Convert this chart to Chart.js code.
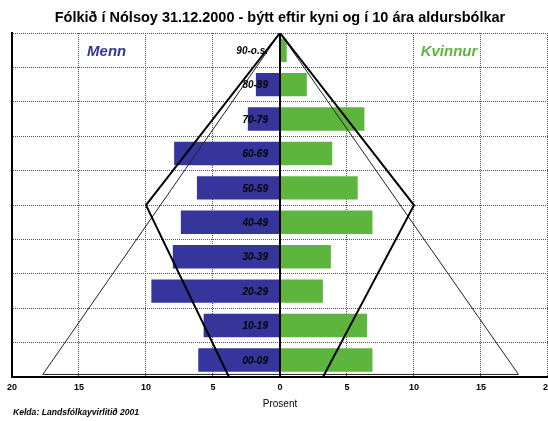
<!DOCTYPE html>
<html>
<head>
<meta charset="utf-8">
<script src="https://cdn.jsdelivr.net/npm/chart.js@4/dist/chart.umd.min.js"></script>
<style>
  html, body { margin: 0; padding: 0; background: #fff; overflow: hidden; }
</style>
</head>
<body>
<canvas id="pyramid" width="558" height="421"></canvas>
<script>
// age groups, top to bottom
const ageGroups = ['90-o.s.', '80-89', '70-79', '60-69', '50-59', '40-49', '30-39', '20-29', '10-19', '00-09'];
// percent of population
const menn = [0, 1.8, 2.4, 7.9, 6.2, 7.4, 8.0, 9.6, 5.7, 6.1];
const kvinnur = [0.5, 2.0, 6.3, 3.9, 5.8, 6.9, 3.8, 3.2, 6.5, 6.9];

// outline shapes: x = percent, y = row position (0 = bottom, 10 = top)
const outerX = [0, -17.7, 17.8, 0];
const outerY = [10, 0.08, 0.08, 10];
const innerX = [0, -10, -3.8, 3.2, 10, 0];
const innerY = [10, 5, 0, 0, 5, 10];
const zeroX = [0, 0];
const zeroY = [0, 10];

const xTicks = [-20, 20, 5]; // min, max, step

const titleText = 'Fólkið í Nólsoy 31.12.2000 - býtt eftir kyni og í 10 ára aldursbólkar';
const sourceText = 'Kelda: Landsfólkayvirlitið 2001';

function toPoints(xs, ys) {
    return xs.map((x, i) => ({x: x, y: ys[i]}));
}

const FONT = "'Liberation Sans', Arial, sans-serif";

const textPlugin = {
    id: 'texts',
    afterDraw(chart) {
        const ctx = chart.ctx;
        const xs = chart.scales.x;
        const ys = chart.scales.y;
        const area = chart.chartArea;
        ctx.save();
        // title, centred over the plot area
        ctx.fillStyle = '#000';
        ctx.font = 'bold 14.5px ' + FONT;
        ctx.textAlign = 'center';
        ctx.textBaseline = 'middle';
        ctx.fillText(titleText, (area.left + area.right) / 2, 18);
        // age labels just left of the zero line
        ctx.font = 'italic bold 10px ' + FONT;
        ctx.textAlign = 'right';
        ageGroups.forEach((lbl, i) => {
            ctx.fillText(lbl, xs.getPixelForValue(0) - 12, ys.getPixelForValue(i) + 1);
        });
        // series names
        ctx.font = 'italic bold 15px ' + FONT;
        ctx.textAlign = 'left';
        ctx.fillStyle = '#35359b';
        ctx.fillText('Menn', xs.getPixelForValue(-14.4), ys.getPixelForValue(0) + 2);
        ctx.fillStyle = '#5db53e';
        ctx.fillText('Kvinnur', xs.getPixelForValue(10.5), ys.getPixelForValue(0) + 2);
        // source
        ctx.fillStyle = '#000';
        ctx.font = 'italic bold 8.6px ' + FONT;
        ctx.fillText(sourceText, 13, 413);
        ctx.restore();
    }
};

new Chart(document.getElementById('pyramid'), {
    type: 'bar',
    data: {
        labels: ageGroups,
        datasets: [{
            label: 'Menn',
            data: menn.map(v => -v),
            backgroundColor: '#35359b',
            indexAxis: 'y',
            grouped: false,
            barPercentage: 0.68,
            categoryPercentage: 1,
            order: 3
        }, {
            label: 'Kvinnur',
            data: kvinnur,
            backgroundColor: '#5db53e',
            indexAxis: 'y',
            grouped: false,
            barPercentage: 0.68,
            categoryPercentage: 1,
            order: 3
        }, {
            type: 'line',
            label: 'outer',
            data: toPoints(outerX, outerY),
            indexAxis: 'x',
            yAxisID: 'yl',
            borderColor: '#222',
            borderWidth: 1,
            pointRadius: 0,
            fill: false,
            order: 2
        }, {
            type: 'line',
            label: 'inner',
            data: toPoints(innerX, innerY),
            indexAxis: 'x',
            yAxisID: 'yl',
            borderColor: '#000',
            borderWidth: 2,
            pointRadius: 0,
            fill: false,
            order: 1
        }, {
            type: 'line',
            label: 'zero',
            data: toPoints(zeroX, zeroY),
            indexAxis: 'x',
            yAxisID: 'yl',
            borderColor: '#000',
            borderWidth: 2,
            pointRadius: 0,
            fill: false,
            order: 0
        }]
    },
    options: {
        responsive: false,
        animation: false,
        indexAxis: 'y',
        layout: {padding: {left: 12, right: 0, top: 33, bottom: 11}},
        plugins: {
            legend: {display: false},
            tooltip: {enabled: false},
            title: {display: false}
        },
        scales: {
            x: {
                type: 'linear',
                min: xTicks[0],
                max: xTicks[1],
                ticks: {
                    stepSize: xTicks[2],
                    callback: v => Math.abs(v),
                    color: '#000',
                    font: {family: FONT, size: 9, weight: 'bold'},
                    padding: 5
                },
                grid: {color: '#555', lineWidth: 1, drawTicks: false},
                border: {display: true, color: '#000', width: 2, dash: [1, 1]},
                title: {
                    display: true,
                    text: 'Prosent',
                    color: '#000',
                    font: {family: FONT, size: 10},
                    padding: {top: 0, bottom: 0}
                }
            },
            y: {
                type: 'category',
                offset: true,
                ticks: {display: false},
                grid: {offset: true, color: '#555', lineWidth: 1, drawTicks: false},
                border: {display: true, color: '#000', width: 2, dash: [1, 1]}
            },
            yl: {
                type: 'linear',
                min: 0,
                max: 10,
                offset: false,
                grid: {offset: false},
                display: false
            }
        }
    },
    plugins: [textPlugin]
});
</script>
</body>
</html>
